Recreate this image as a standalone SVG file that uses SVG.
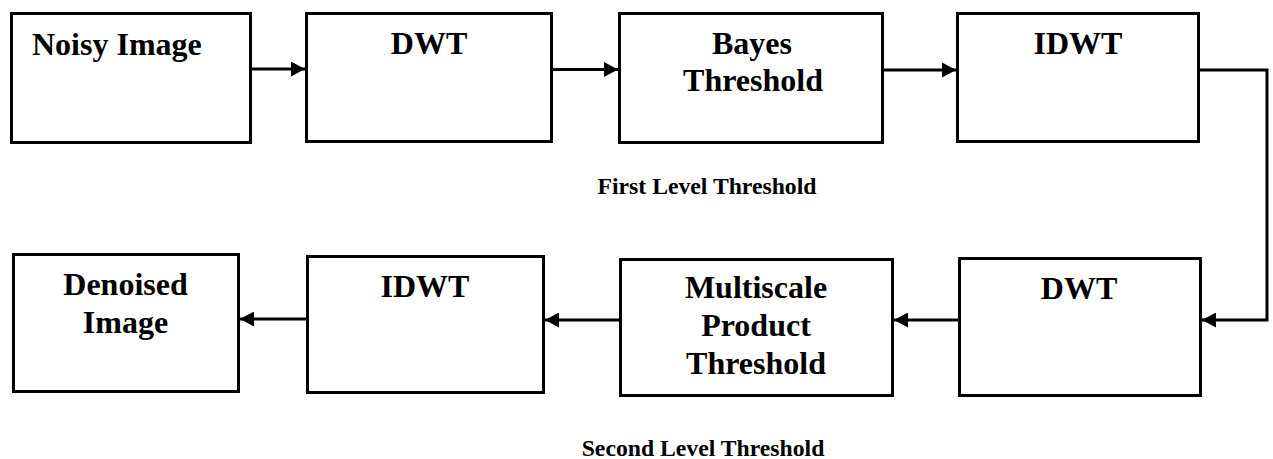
<svg xmlns="http://www.w3.org/2000/svg" width="1273" height="459" viewBox="0 0 1273 459">
<style>
.box{fill:#fff;stroke:#000;stroke-width:3}
.t{font-family:"Liberation Serif","Times New Roman",serif;font-weight:bold;font-size:32px;fill:#000;text-anchor:middle}
.lbl{font-family:"Liberation Serif","Times New Roman",serif;font-weight:bold;font-size:23.7px;fill:#000;text-anchor:middle}
.c{fill:none;stroke:#000;stroke-width:3}
</style>
<defs>
<marker id="ah" markerUnits="userSpaceOnUse" markerWidth="15" markerHeight="15" refX="14" refY="7.5" orient="auto">
<path d="M0,0 L14,7.5 L0,15 z" fill="#000"/>
</marker>
</defs>
<rect width="1273" height="459" fill="#fff"/>
<g id="connectors">
<path class="c" d="M252,69 H305" marker-end="url(#ah)"/>
<path class="c" d="M553,69.5 H618" marker-end="url(#ah)"/>
<path class="c" d="M884,70 H956" marker-end="url(#ah)"/>
<path class="c" d="M1200,70 H1267 V320 H1202" marker-end="url(#ah)"/>
<path class="c" d="M958,320 H894" marker-end="url(#ah)"/>
<path class="c" d="M619,320 H545" marker-end="url(#ah)"/>
<path class="c" d="M306,319 H240" marker-end="url(#ah)"/>
</g>
<g id="noisy"><rect class="box" x="11.5" y="13.5" width="239" height="129"/><text class="t" x="32" y="55" style="text-anchor:start">Noisy Image</text></g>
<g id="dwt1"><rect class="box" x="306.5" y="13.5" width="245" height="128"/><text class="t" x="429" y="54">DWT</text></g>
<g id="bayes"><rect class="box" x="619.5" y="13.5" width="263" height="129"/><text class="t" x="752" y="54">Bayes</text><text class="t" x="753" y="91">Threshold</text></g>
<g id="idwt1"><rect class="box" x="957.5" y="13.5" width="241" height="128"/><text class="t" x="1078" y="54">IDWT</text></g>
<g id="denoised"><rect class="box" x="13.5" y="254.5" width="225" height="137"/><text class="t" x="125.5" y="295">Denoised</text><text class="t" x="125.5" y="333">Image</text></g>
<g id="idwt2"><rect class="box" x="307.5" y="256.5" width="236" height="136"/><text class="t" x="425" y="297">IDWT</text></g>
<g id="multiscale"><rect class="box" x="620.5" y="259.5" width="272" height="136"/><text class="t" x="756" y="298">Multiscale</text><text class="t" x="756" y="336">Product</text><text class="t" x="756" y="374">Threshold</text></g>
<g id="dwt2"><rect class="box" x="959.5" y="258.5" width="241" height="137"/><text class="t" x="1079" y="299">DWT</text></g>
<g id="labels"><text class="lbl" x="707" y="194">First Level Threshold</text><text class="lbl" x="703" y="456">Second Level Threshold</text></g>
</svg>
